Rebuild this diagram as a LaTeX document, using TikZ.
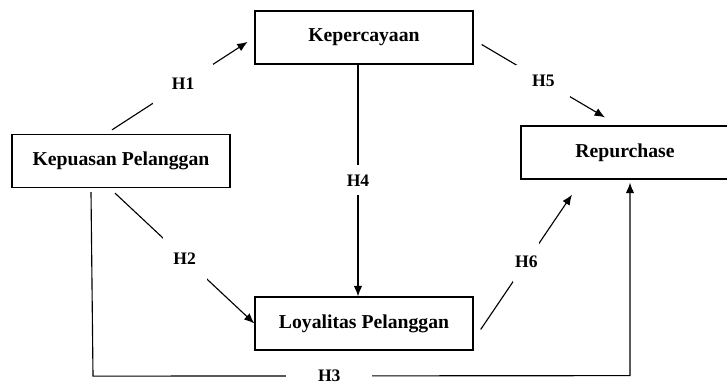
\documentclass[tikz,border=0pt]{standalone}
\usepackage{fontspec}
\setmainfont{Liberation Serif}
\usetikzlibrary{positioning,calc,arrows.meta}

\tikzset{
  var/.style={draw, line width=0.9pt, minimum width=218*0.025cm, minimum height=53*0.025cm, inner sep=0pt, font=\fontsize{14}{16}\selectfont\bfseries},
  hyp/.style={fill=white, inner sep=0pt, font=\fontsize{12.5}{14}\selectfont\bfseries},
  link/.style={line width=0.8pt, -{Latex[length=2.6mm,width=2.1mm]}}
}

\begin{document}
\begin{tikzpicture}[x=0.025cm, y=-0.025cm]
\useasboundingbox (0,0) rectangle (727,385);
% variables
\node[var] (kc) at (364,37.5) {Kepercayaan};
\node[var] (kp) at (121,161) {Kepuasan Pelanggan};
\node[var] (lo) at (364,323.5) {Loyalitas Pelanggan};
\node[var, minimum width=208*0.025cm] (rp) at (625,152.5) {Repurchase};
% hypotheses
\draw[link, shorten >=8*0.025cm] ($(kp.north)+(-9,-4)$) -- node[hyp, minimum width=60*0.025cm, minimum height=40*0.025cm] {H1} (kc.west);
\draw[link] ($(kp.south)+(-6,5)$) -- node[hyp, minimum width=44*0.025cm, minimum height=44*0.025cm] {H2} (lo.west);
\draw[link] ($(kc.south)+(-6,0)$) -- node[hyp, minimum width=30*0.025cm, minimum height=30*0.025cm] {H4} ($(lo.north)+(-6,0)$);
\draw[link] ($(kc.east)+(8,7)$) -- node[hyp, minimum width=54*0.025cm, minimum height=32*0.025cm] {H5} ($(rp.north)+(-20,-8)$);
\draw[link] ($(lo.east)+(7,6)$) -- node[hyp, minimum width=26*0.025cm, minimum height=40*0.025cm] {H6} ($(rp.south)+(-53,15)$);
\coordinate (c1) at ($(kp.south)+(-28,188)$);
\coordinate (c2) at ($(rp.south)+(5,196)$);
\draw[link] ($(kp.south)+(-30,4)$) -- (c1) -- node[hyp, pos=0.44, minimum width=86*0.025cm, minimum height=14*0.025cm] {H3} (c2) -- ($(rp.south)+(5,3)$);
\end{tikzpicture}
\end{document}
